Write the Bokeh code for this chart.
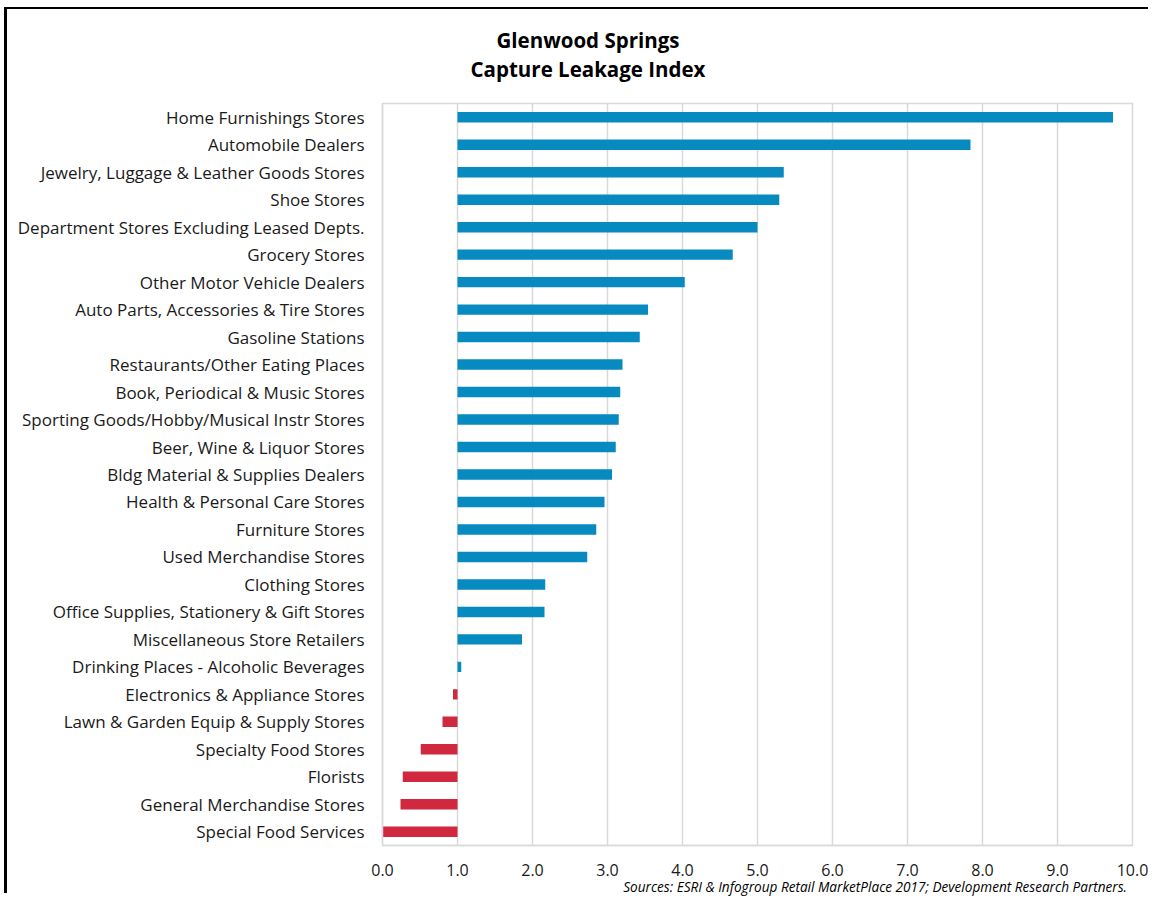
from bokeh.plotting import figure
from bokeh.models import FixedTicker, NumeralTickFormatter, Div, Spacer
from bokeh.layouts import column, row
from bokeh.embed import file_html
from bokeh.resources import INLINE

categories = [
    "Home Furnishings Stores",
    "Automobile Dealers",
    "Jewelry, Luggage & Leather Goods Stores",
    "Shoe Stores",
    "Department Stores Excluding Leased Depts.",
    "Grocery Stores",
    "Other Motor Vehicle Dealers",
    "Auto Parts, Accessories & Tire Stores",
    "Gasoline Stations",
    "Restaurants/Other Eating Places",
    "Book, Periodical & Music Stores",
    "Sporting Goods/Hobby/Musical Instr Stores",
    "Beer, Wine & Liquor Stores",
    "Bldg Material & Supplies Dealers",
    "Health & Personal Care Stores",
    "Furniture Stores",
    "Used Merchandise Stores",
    "Clothing Stores",
    "Office Supplies, Stationery & Gift Stores",
    "Miscellaneous Store Retailers",
    "Drinking Places - Alcoholic Beverages",
    "Electronics & Appliance Stores",
    "Lawn & Garden Equip & Supply Stores",
    "Specialty Food Stores",
    "Florists",
    "General Merchandise Stores",
    "Special Food Services",
]
index_values = [
    9.74, 7.84, 5.35, 5.29, 5.00, 4.67, 4.03, 3.54, 3.43, 3.20, 3.17, 3.15,
    3.11, 3.06, 2.96, 2.85, 2.73, 2.17, 2.16, 1.86, 1.05, 0.94, 0.80, 0.51,
    0.27, 0.24, 0.00,
]
baseline = 1.0
x_ticks = [0, 1, 2, 3, 4, 5, 6, 7, 8, 9, 10]
title_lines = ["Glenwood Springs", "Capture Leakage Index"]
source_note = "Sources: ESRI & Infogroup Retail MarketPlace 2017; Development Research Partners."

BLUE = "#068AC0"
RED = "#D0283F"
FONT = "Open Sans"
W = 1141

factors = list(reversed(categories))
colors = [BLUE if v >= baseline else RED for v in index_values]

title_div = Div(
    text="<br>".join(title_lines), width=W, height=87, margin=(0, 0, 0, 0),
    styles={"text-align": "center", "font-family": FONT, "font-weight": "bold",
            "font-size": "20.5px", "line-height": "29px", "padding-top": "17px",
            "padding-left": "21px", "color": "#000000",
            "box-sizing": "border-box", "width": "100%"},
)

p = figure(
    width=W, height=784, margin=(0, 0, 0, 0),
    y_range=factors, x_range=(0, 10),
    output_backend="svg", toolbar_location=None,
    min_border_left=375, min_border_right=16,
    min_border_top=7, min_border_bottom=35,
)

p.hbar(y=categories, left=baseline, right=index_values, height=0.38,
       fill_color=colors, line_color=None)

p.outline_line_color = "#D9D9D9"
p.outline_line_width = 1.5
p.ygrid.grid_line_color = None
p.xgrid.grid_line_color = "#D9D9D9"
p.xgrid.grid_line_width = 1.5
p.xaxis.ticker = FixedTicker(ticks=x_ticks)
p.xaxis.formatter = NumeralTickFormatter(format="0.0")
for ax in (p.xaxis, p.yaxis):
    ax.axis_line_color = "#D9D9D9"
    ax.axis_line_width = 1.5
    ax.major_tick_line_color = None
    ax.minor_tick_line_color = None
    ax.major_label_text_font = FONT
    ax.major_label_text_color = "#1A1A1A"
p.yaxis.major_label_text_font_size = "17px"
p.xaxis.major_label_text_font_size = "16px"
p.yaxis.major_label_standoff = 12
p.xaxis.major_label_standoff = 12

source_div = Div(
    text=source_note, width=1120, height=13, margin=(0, 0, 0, 0),
    styles={"text-align": "right", "font-family": FONT, "font-style": "italic",
            "font-size": "13.6px", "line-height": "13px", "color": "#000000",
            "white-space": "nowrap"},
)

inner = column(title_div, p, source_div, spacing=0, margin=(0, 0, 0, 0),
               styles={"border-left": "3px solid black",
                       "border-top": "2px solid black"})

layout = column(
    Spacer(width=1148, height=7, margin=(0, 0, 0, 0)),
    row(Spacer(width=4, height=10, margin=(0, 0, 0, 0)), inner,
        spacing=0, margin=(0, 0, 0, 0)),
    spacing=0, margin=(0, 0, 0, 0),
)

open("out.html", "w").write(file_html(layout, INLINE))
